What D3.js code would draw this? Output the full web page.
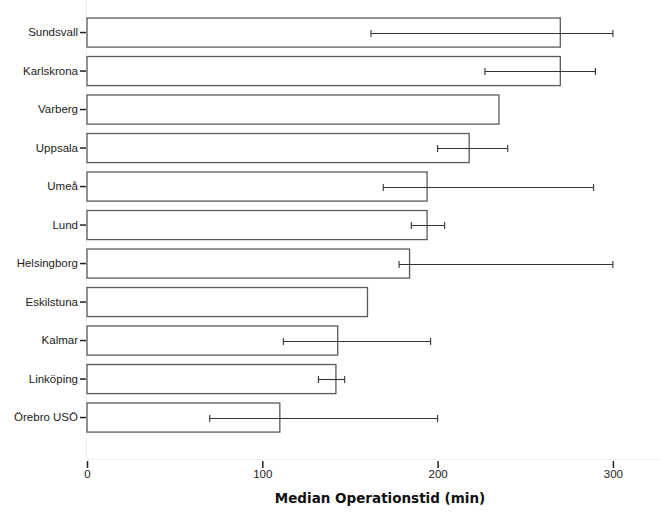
<!DOCTYPE html>
<html><head><meta charset="utf-8">
<script src="https://cdn.jsdelivr.net/npm/d3@7"></script>
<style>body{margin:0;background:#fff}svg{display:block}</style>
</head><body>
<svg id="c" width="660" height="513"></svg>
<script>
const categories = ["Sundsvall","Karlskrona","Varberg","Uppsala","Umeå","Lund","Helsingborg","Eskilstuna","Kalmar","Linköping","Örebro USÖ"];
const medians   = [270, 270, 235, 218, 194, 194, 184, 160, 143, 142, 110];
const errLow    = [162, 227, null, 200, 169, 185, 178, null, 112, 132, 70];
const errHigh   = [300, 290, null, 240, 289, 204, 300, null, 196, 147, 200];
const xTicks    = [0, 100, 200, 300];
const xTitle    = "Median Operationstid (min)";

const svg = d3.select("#c");
const plot = {left: 87, right: 660, top: 0, bottom: 459.5};
const x = d3.scaleLinear().domain([0, 100]).range([87, 262.3]);
const y = d3.scaleBand().domain(categories).range([13.3, 436.8]).paddingInner(0.245).paddingOuter(0.1225);

// plot area faint frame
svg.append("line").attr("x1", plot.left - 0.5).attr("x2", plot.left - 0.5).attr("y1", plot.top).attr("y2", plot.bottom)
  .attr("stroke", "#f0f0f0");
svg.append("line").attr("x1", plot.left).attr("x2", plot.right).attr("y1", plot.bottom).attr("y2", plot.bottom)
  .attr("stroke", "#f0f0f0");

const font = "Arial, 'Liberation Sans', sans-serif";

// bars
svg.append("g").selectAll("rect").data(categories).join("rect")
  .attr("x", x(0)).attr("y", d => y(d))
  .attr("width", (d, i) => x(medians[i]) - x(0))
  .attr("height", y.bandwidth())
  .attr("fill", "#fff").attr("stroke", "#5a5a5a").attr("stroke-width", 1.3);

// error bars
const eg = svg.append("g").attr("stroke", "#333").attr("stroke-width", 1.1);
categories.forEach((c, i) => {
  if (errLow[i] == null) return;
  const cy = Math.round(y(c) + y.bandwidth() / 2) + 0.5;
  eg.append("line").attr("x1", x(errLow[i])).attr("x2", x(errHigh[i])).attr("y1", cy).attr("y2", cy);
  [errLow[i], errHigh[i]].forEach(v => {
    eg.append("line").attr("x1", x(v)).attr("x2", x(v)).attr("y1", cy - 3.5).attr("y2", cy + 3.5);
  });
});

// y axis
const yAxis = d3.axisLeft(y).tickSize(6).tickPadding(2);
const ya = svg.append("g").attr("transform", `translate(${plot.left - 1},0)`).call(yAxis);
ya.select(".domain").remove();
ya.selectAll(".tick line").attr("stroke", "#222").attr("stroke-width", 1.5);
ya.selectAll(".tick text").attr("font-family", font).attr("font-size", 11.5).attr("fill", "#222");

// x axis
const xAxis = d3.axisBottom(x).tickValues(xTicks).tickSize(7).tickPadding(2).tickFormat(d3.format("d"));
const xa = svg.append("g").attr("transform", `translate(0,${plot.bottom + 1.5})`).call(xAxis);
xa.select(".domain").remove();
xa.selectAll(".tick line").attr("stroke", "#222").attr("stroke-width", 1.5);
xa.selectAll(".tick text").attr("font-family", font).attr("font-size", 11.5).attr("fill", "#222");

// x title
svg.append("text").attr("x", 380).attr("y", 503).attr("text-anchor", "middle")
  .attr("font-family", "'DejaVu Sans', Verdana, sans-serif").attr("font-size", 13.5).attr("font-weight", "bold").attr("fill", "#111")
  .text(xTitle);
</script>
</body></html>
